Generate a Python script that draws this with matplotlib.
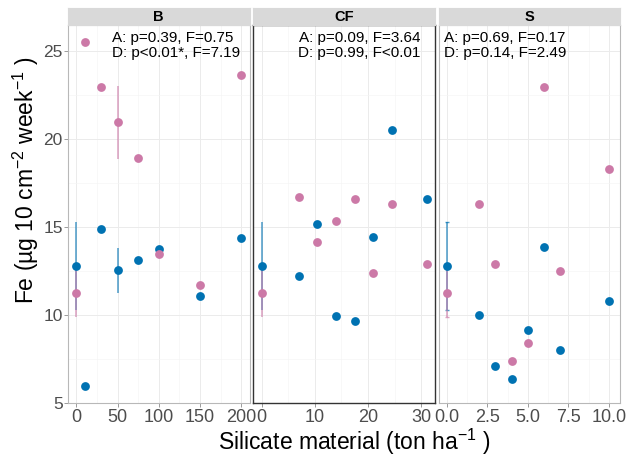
import numpy as np
import matplotlib
matplotlib.use('Agg')
import matplotlib.pyplot as plt
from matplotlib.ticker import MultipleLocator

plt.rcParams['font.family'] = ['Liberation Sans', 'DejaVu Sans']
plt.rcParams['mathtext.fontset'] = 'custom'
plt.rcParams['mathtext.rm'] = 'Liberation Sans'
plt.rcParams['mathtext.it'] = 'Liberation Sans:italic'
plt.rcParams['mathtext.default'] = 'regular'

# Fe flux per silicate material, control (0) included in each panel
panels = ['B', 'CF', 'S']

b_x = [0, 10, 30, 50, 75, 100, 150, 200]
b_fe_a = [12.78, 5.97, 14.9, 12.52, 13.11, 13.75, 11.05, 14.38]
b_sd_a = [2.5, 0, 0, 1.3, 0, 0, 0, 0]
b_fe_d = [11.25, 25.51, 22.95, 20.93, 18.92, 13.43, 11.67, 23.64]
b_sd_d = [1.35, 0, 0, 2.1, 0, 0, 0, 0]

cf_x = [0, 7, 10.5, 14, 17.5, 21, 24.5, 31]
cf_fe_a = [12.78, 12.18, 15.15, 9.91, 9.64, 14.43, 20.5, 16.59]
cf_sd_a = [2.5, 0, 0, 0, 0, 0, 0, 0]
cf_fe_d = [11.23, 16.7, 14.15, 15.32, 16.6, 12.39, 16.29, 12.86]
cf_sd_d = [1.35, 0, 0, 0, 0, 0, 0, 0]

s_x = [0, 2, 3, 4, 5, 6, 7, 10]
s_fe_a = [12.78, 10.0, 7.09, 6.33, 9.13, 13.86, 8.0, 10.76]
s_sd_a = [2.5, 0, 0, 0, 0, 0, 0, 0]
s_fe_d = [11.23, 16.29, 12.9, 7.39, 8.37, 22.94, 12.5, 18.3]
s_sd_d = [1.35, 0, 0, 0, 0, 0, 0, 0]

stats_a = ['A: p=0.39, F=0.75', 'A: p=0.09, F=3.64', 'A: p=0.69, F=0.17']
stats_d = ['D: p<0.01*, F=7.19', 'D: p=0.99, F<0.01', 'D: p=0.14, F=2.49']

xticks = [[0, 50, 100, 150, 200], [0, 10, 20, 30], [0, 2.5, 5, 7.5, 10]]
xticklabels = [['0', '50', '100', '150', '200'], ['0', '10', '20', '30'],
               ['0.0', '2.5', '5.0', '7.5', '10.0']]
xminor = [25, 5, 1.25]
xlims = [(-10, 210), (-1.55, 32.55), (-0.5, 10.7)]

data = [(b_x, b_fe_a, b_sd_a, b_fe_d, b_sd_d),
        (cf_x, cf_fe_a, cf_sd_a, cf_fe_d, cf_sd_d),
        (s_x, s_fe_a, s_sd_a, s_fe_d, s_sd_d)]

col_a = '#0072B2'
col_d = '#CC79A7'

W, H = 629, 466
fig = plt.figure(figsize=(W / 100, H / 100), dpi=100)

lefts = [68, 253.3, 438.7]
pw = 181.5
top_px, bot_px = 24.5, 402.7
strip_h = 17

for i, name in enumerate(panels):
    ax = fig.add_axes([lefts[i] / W, 1 - bot_px / H, pw / W, (bot_px - top_px) / H])
    x, fa, sa, fd, sd = data[i]
    x = np.array(x, dtype=float)
    sa = np.array(sa); sd = np.array(sd)
    cap = 1.5 if name == 'S' else 0
    m = sa > 0
    ax.errorbar(x[m], np.array(fa)[m], yerr=sa[m], fmt='none', ecolor=col_a,
                alpha=0.7, elinewidth=1.1, capsize=cap, zorder=2)
    m = sd > 0
    ax.errorbar(x[m], np.array(fd)[m], yerr=sd[m], fmt='none', ecolor=col_d,
                alpha=0.7, elinewidth=1.1, capsize=cap, zorder=2)
    ax.scatter(x, fa, s=40, color=col_a, zorder=3, linewidths=0)
    ax.scatter(x, fd, s=40, color=col_d, zorder=4, linewidths=0)

    ax.set_xlim(*xlims[i])
    ax.set_ylim(5.0, 26.5)
    ax.set_xticks(xticks[i])
    ax.set_xticklabels(xticklabels[i])
    ax.xaxis.set_minor_locator(MultipleLocator(xminor[i]))
    ax.yaxis.set_major_locator(MultipleLocator(5))
    ax.yaxis.set_minor_locator(MultipleLocator(2.5))
    ax.grid(which='major', color='#EBEBEB', linewidth=0.7)
    ax.grid(which='minor', color='#F4F4F4', linewidth=0.45)
    ax.set_axisbelow(True)
    ax.tick_params(which='minor', length=0)
    ax.tick_params(axis='x', which='major', length=2.75, width=0.6, color='#8C8C8C',
                   labelsize=13, labelcolor='#4D4D4D', pad=1.5)
    ax.tick_params(axis='y', which='major', length=2.75, width=0.6, color='#8C8C8C',
                   labelsize=12.5, labelcolor='#4D4D4D', pad=1)
    if i > 0:
        ax.tick_params(axis='y', which='both', left=False, labelleft=False)
    edge = '#333333' if name == 'CF' else '#B8B8B8'
    for sp in ax.spines.values():
        sp.set_color(edge)
        sp.set_linewidth(1.0 if name == 'CF' else 0.8)

    # two-line stats text in the panel corner
    if name == 'CF':
        ax.text(0.92, 0.982, stats_a[i] + '\n' + stats_d[i], transform=ax.transAxes,
                ha='right', va='top', fontsize=11, linespacing=1.08)
    else:
        tx = 0.24 if name == 'B' else 0.03
        ax.text(tx, 0.982, stats_a[i] + '\n' + stats_d[i], transform=ax.transAxes,
                ha='left', va='top', fontsize=11, linespacing=1.08)

    st = fig.add_axes([lefts[i] / W, 1 - top_px / H, pw / W, strip_h / H])
    st.set_facecolor('#D9D9D9')
    st.set_xticks([]); st.set_yticks([])
    for sp in st.spines.values():
        sp.set_color('#D9D9D9')
    st.text(0.5, 0.45, name, ha='center', va='center', fontsize=10.5,
            fontweight='bold', transform=st.transAxes)

fig.text(354 / W, 1 - 442 / H, 'Silicate material (ton ha$^{-1}$ )', ha='center',
         va='center', fontsize=16.5)
fig.text(26 / W, 1 - 180 / H, 'Fe (µg 10 cm$^{-2}$ week$^{-1}$ )', ha='center',
         va='center', rotation=90, fontsize=16.5)

fig.savefig('out.png', dpi=100)
